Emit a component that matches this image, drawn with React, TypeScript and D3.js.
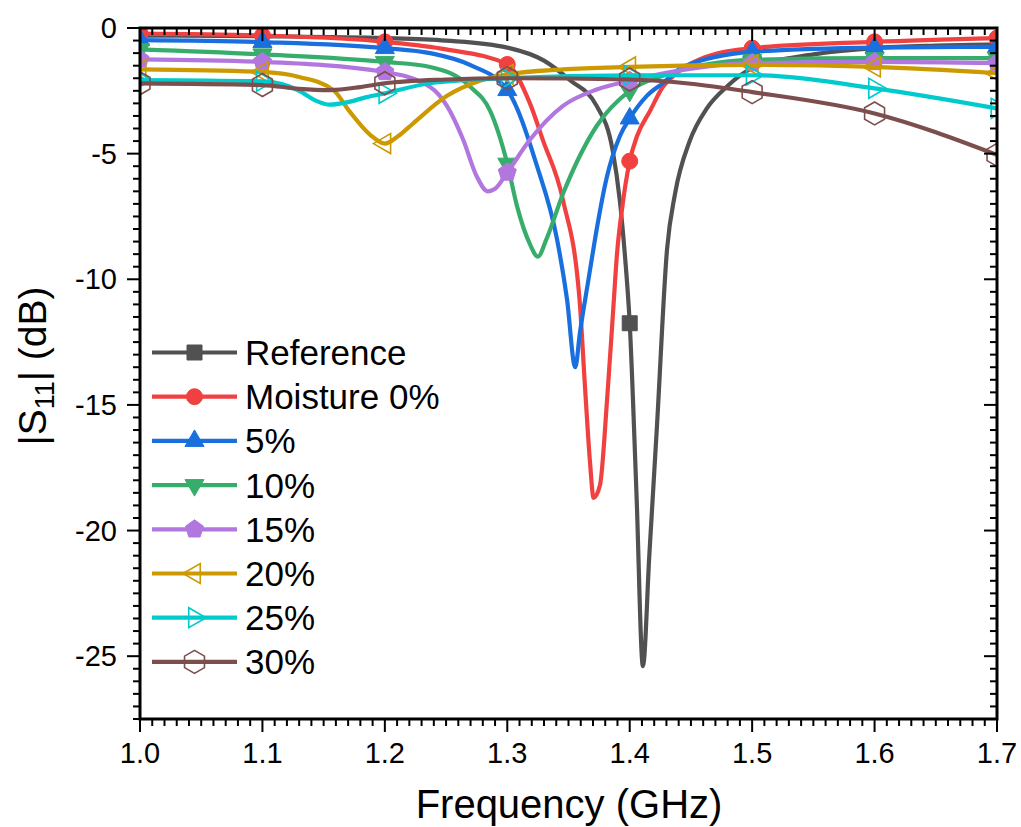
import React from 'react';
import * as d3 from 'd3';

// ---------- data (frequency GHz, |S11| dB) ----------
const reference: [number, number][] = [
  [1.0, -0.3], [1.1, -0.33], [1.2, -0.4], [1.25, -0.5], [1.3, -0.78], [1.33, -1.3],
  [1.351, -2.07], [1.373, -3.1], [1.386, -4.85], [1.392, -6.9], [1.396, -9.0],
  [1.4, -11.75], [1.4055, -18.5], [1.4108, -25.4], [1.416, -21.0], [1.4223, -15.8],
  [1.4305, -8.8], [1.437, -6.6], [1.449, -4.5], [1.463, -3.2], [1.479, -2.35],
  [1.5, -1.6], [1.55, -1.05], [1.6, -0.8], [1.65, -0.7], [1.7, -0.65],
];
const moisture0: [number, number][] = [
  [1.0, -0.22], [1.1, -0.3], [1.2, -0.55], [1.25, -0.85], [1.3, -1.45], [1.3185, -3.0],
  [1.329, -4.45], [1.3455, -6.85], [1.359, -10.8], [1.3635, -14.3], [1.3676, -17.3],
  [1.3705, -18.7], [1.3757, -18.2], [1.3815, -14.8], [1.3864, -11.3], [1.3896, -9.0],
  [1.394, -7.1], [1.4, -5.3], [1.406, -4.3], [1.4166, -3.3], [1.427, -2.35], [1.437, -1.85],
  [1.457, -1.25], [1.5, -0.8], [1.6, -0.55], [1.7, -0.4],
];
const moisture5: [number, number][] = [
  [1.0, -0.48], [1.1, -0.56], [1.2, -0.8], [1.237, -1.0], [1.2695, -1.47], [1.3, -2.47],
  [1.3243, -5.5], [1.3406, -8.4], [1.3488, -10.8], [1.3555, -13.5], [1.3594, -12.1],
  [1.366, -10.1], [1.372, -8.3], [1.381, -6.0], [1.392, -4.3], [1.4, -3.6], [1.414, -2.7],
  [1.427, -2.2], [1.4435, -1.55], [1.5, -0.95], [1.6, -0.78], [1.7, -0.75],
];
const moisture10: [number, number][] = [
  [1.0, -0.85], [1.1, -1.05], [1.2, -1.35], [1.237, -1.55], [1.27, -2.35], [1.286, -3.3],
  [1.3, -5.4], [1.308, -7.1], [1.3185, -8.6], [1.325, -9.1], [1.332, -8.4], [1.3455, -6.6],
  [1.373, -3.9], [1.4, -2.5], [1.427, -1.9], [1.5, -1.27], [1.6, -1.2], [1.7, -1.2],
];
const moisture15: [number, number][] = [
  [1.0, -1.25], [1.1, -1.35], [1.2, -1.75], [1.237, -2.35], [1.2507, -3.1], [1.264, -4.45],
  [1.275, -5.9], [1.284, -6.5], [1.29, -6.4], [1.3, -5.75], [1.3185, -4.45], [1.3455, -3.1],
  [1.373, -2.45], [1.4, -2.1], [1.5, -1.4], [1.6, -1.35], [1.7, -1.4],
];
const moisture20: [number, number][] = [
  [1.0, -1.65], [1.1, -1.75], [1.13, -1.95], [1.158, -2.47], [1.1715, -3.34], [1.188, -4.25],
  [1.2, -4.6], [1.211, -4.3], [1.223, -3.8], [1.2508, -2.7], [1.2777, -2.1], [1.3, -1.85],
  [1.3455, -1.65], [1.4, -1.55], [1.5, -1.47], [1.6, -1.55], [1.7, -1.8],
];
const moisture25: [number, number][] = [
  [1.0, -2.07], [1.1, -2.12], [1.115, -2.22], [1.13, -2.5], [1.145, -2.92], [1.155, -3.05],
  [1.17, -2.95], [1.185, -2.75], [1.2, -2.6], [1.237, -2.2], [1.3, -2.0], [1.4, -1.88],
  [1.5, -1.88], [1.6, -2.4], [1.7, -3.2],
];
const moisture30: [number, number][] = [
  [1.0, -2.2], [1.1, -2.27], [1.13, -2.42], [1.155, -2.47], [1.18, -2.35], [1.2, -2.2],
  [1.25, -2.05], [1.3, -2.0], [1.4, -2.05], [1.45, -2.22], [1.5, -2.55], [1.6, -3.4],
  [1.7, -5.05],
];

const seriesNames = ['Reference', 'Moisture 0%', '5%', '10%', '15%', '20%', '25%', '30%'];
const seriesColors = ['#515151', '#F14040', '#1A6FDF', '#37AD6B', '#B177DE', '#CC9900', '#00CBCC', '#7D4E4E'];
const seriesMarkers = ['square', 'circle', 'triUp', 'triDown', 'pentagon', 'triLeft', 'triRight', 'hexagon'];
const seriesData = [reference, moisture0, moisture5, moisture10, moisture15, moisture20, moisture25, moisture30];

const referenceMarkerFreqs = [1.4, 1.6];
const markerFreqs = [1.0, 1.1, 1.2, 1.3, 1.4, 1.5, 1.6, 1.7];
const seriesMarkerFreqs = [referenceMarkerFreqs, markerFreqs, markerFreqs, markerFreqs, markerFreqs, markerFreqs, markerFreqs, markerFreqs];
const xTickValues = [1.0, 1.1, 1.2, 1.3, 1.4, 1.5, 1.6, 1.7];
const xTickLabels = ['1.0', '1.1', '1.2', '1.3', '1.4', '1.5', '1.6', '1.7'];
const yTickValues = [0, -5, -10, -15, -20, -25];
const yTickLabels = ['0', '-5', '-10', '-15', '-20', '-25'];

// ---------- layout ----------
const W = 1021;
const H = 827;
const PL = 140, PR = 997, PT = 28, PB = 719;
const FONT = '"Liberation Sans", Arial, Helvetica, sans-serif';

const x = d3.scaleLinear().domain([1.0, 1.7]).range([PL, PR]);
const y = d3.scaleLinear().domain([-27.5, 0]).range([PB, PT]);

const xMinor = d3.range(0, 71).map((i) => 1.0 + i * 0.01);
const yMinor = d3.range(0, 56).map((i) => -i * 0.5);

const poly = (n: number, r: number, startDeg: number) => {
  const pts = d3.range(n).map((i) => {
    const a = ((startDeg + (i * 360) / n) * Math.PI) / 180;
    return [r * Math.cos(a), r * Math.sin(a)];
  });
  return 'M' + pts.map((p) => p[0].toFixed(2) + ',' + p[1].toFixed(2)).join('L') + 'Z';
};

const markerPath = (type: string) => {
  switch (type) {
    case 'square': return 'M-7.5,-7.5H7.5V7.5H-7.5Z';
    case 'circle': return d3.symbol(d3.symbolCircle, 200)() as string;
    case 'triUp': return poly(3, 11, -90);
    case 'triDown': return poly(3, 11, 90);
    case 'pentagon': return poly(5, 9.5, -90);
    case 'triLeft': return poly(3, 11.5, 180);
    case 'triRight': return poly(3, 11.5, 0);
    case 'hexagon': return poly(6, 11.5, -90);
    default: return '';
  }
};
const isOpen = (type: string) => type === 'triLeft' || type === 'triRight' || type === 'hexagon';

const Marker = ({ type, color, cx, cy }: { type: string; color: string; cx: number; cy: number }) => (
  <path
    d={markerPath(type)}
    transform={`translate(${cx},${cy})`}
    fill={isOpen(type) ? 'none' : color}
    stroke={color}
    strokeWidth={isOpen(type) ? 1.6 : 1}
  />
);

const lineGen = d3
  .line<[number, number]>()
  .x((d) => x(d[0]))
  .y((d) => y(d[1]))
  .curve(d3.curveMonotoneX);

export default function App() {
  const legendX0 = 152, legendX1 = 237, legendY0 = 352.5, legendDy = 44.2;
  return (
    <svg width={W} height={H} style={{ position: 'absolute', left: 0, top: 0, background: '#fff' }} fontFamily={FONT}>
      <defs>
        <clipPath id="plotClip">
          <rect x={PL} y={PT} width={PR - PL} height={PB - PT} />
        </clipPath>
      </defs>
      <rect x={0} y={0} width={W} height={H} fill="#fff" />

      {/* series */}
      <g clipPath="url(#plotClip)">
        {seriesData.map((data, si) => (
          <g key={si}>
            <path d={lineGen(data) as string} fill="none" stroke={seriesColors[si]} strokeWidth={4.2} strokeLinejoin="round" />
            {seriesMarkerFreqs[si].map((f) => {
              const pt = data.find((d) => Math.abs(d[0] - f) < 1e-9);
              if (!pt) return null;
              return <Marker key={f} type={seriesMarkers[si]} color={seriesColors[si]} cx={x(pt[0])} cy={y(pt[1])} />;
            })}
          </g>
        ))}
      </g>

      {/* axes frame */}
      <g stroke="#000" strokeLinecap="square">
        {xMinor.map((v, i) => (
          <line key={'bm' + i} x1={x(v)} x2={x(v)} y1={PB} y2={PB + (i % 10 === 0 ? 12 : 6)} strokeWidth={2} />
        ))}
        {xMinor.map((v, i) => (
          <line key={'tm' + i} x1={x(v)} x2={x(v)} y1={PT} y2={PT + (i % 10 === 0 ? 12 : 6)} strokeWidth={2} />
        ))}
        {yMinor.map((v, i) => (
          <line key={'lm' + i} x1={PL} x2={PL - (i % 10 === 0 ? 12 : 6)} y1={y(v)} y2={y(v)} strokeWidth={2} />
        ))}
        {yMinor.map((v, i) => (
          <line key={'rm' + i} x1={PR} x2={PR - (i % 10 === 0 ? 12 : 6)} y1={y(v)} y2={y(v)} strokeWidth={2} />
        ))}
        <rect x={PL} y={PT} width={PR - PL} height={PB - PT} fill="none" strokeWidth={3} />
      </g>

      {/* tick labels */}
      <g fontSize={29} fill="#000">
        {xTickValues.map((v, i) => (
          <text key={'xl' + i} x={x(v)} y={763} textAnchor="middle">{xTickLabels[i]}</text>
        ))}
        {yTickValues.map((v, i) => (
          <text key={'yl' + i} x={117} y={y(v)} textAnchor="end" dominantBaseline="central">{yTickLabels[i]}</text>
        ))}
      </g>

      {/* axis titles */}
      <text x={569} y={818} textAnchor="middle" fontSize={40}>Frequency (GHz)</text>
      <text transform="translate(46,366) rotate(-90)" textAnchor="middle" fontSize={39}>
        |S<tspan fontSize={27} dy={8}>11</tspan><tspan dy={-8}>| (dB)</tspan>
      </text>

      {/* legend */}
      {seriesNames.map((name, i) => {
        const ly = legendY0 + i * legendDy;
        return (
          <g key={'lg' + i}>
            <line x1={legendX0} x2={legendX1} y1={ly} y2={ly} stroke={seriesColors[i]} strokeWidth={4.2} />
            <Marker type={seriesMarkers[i]} color={seriesColors[i]} cx={(legendX0 + legendX1) / 2} cy={ly} />
            <text x={245} y={ly} dominantBaseline="central" fontSize={35}>{name}</text>
          </g>
        );
      })}
    </svg>
  );
}
